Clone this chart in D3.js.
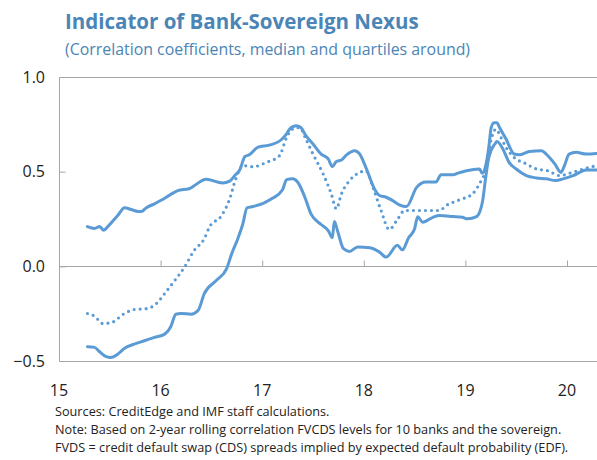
<!DOCTYPE html>
<html>
<head>
<meta charset="utf-8">
<script src="https://cdn.jsdelivr.net/npm/d3@7"></script>
<style>
  body { margin: 0; background: #fff; }
  text { font-family: "Open Sans", "Noto Sans", sans-serif; }
  .title { font-weight: bold; fill: #4a85b6; font-size: 20.5px; }
  .subtitle { fill: #4a85b6; font-size: 15.9px; }
  .tick-label { fill: #222; font-size: 16px; }
  .note { fill: #222; font-size: 12.7px; }
  .frame { stroke: #a6a6a6; stroke-width: 1; fill: none; }
  .series { fill: none; stroke: #5b9bd5; stroke-width: 3; stroke-linejoin: round; stroke-linecap: round; }
  .median { stroke-dasharray: 0 6; stroke-width: 3.2; }
</style>
</head>
<body>
<div id="chart"></div>
<script>
// Data: [year (2-digit, fractional), correlation]
const upperQuartile = [
  [15.28, 0.21], [15.35, 0.20], [15.40, 0.21], [15.44, 0.19], [15.48, 0.21], [15.58, 0.27],
  [15.645, 0.31], [15.71, 0.30], [15.78, 0.29], [15.81, 0.29], [15.86, 0.31], [15.94, 0.33],
  [16.01, 0.35], [16.10, 0.38], [16.17, 0.40], [16.28, 0.41], [16.45, 0.46], [16.61, 0.44],
  [16.68, 0.45], [16.73, 0.48], [16.78, 0.51], [16.83, 0.58], [16.875, 0.59], [16.96, 0.63],
  [17.07, 0.64], [17.19, 0.67], [17.24, 0.70], [17.27, 0.725], [17.335, 0.742], [17.38, 0.733],
  [17.43, 0.69], [17.50, 0.646], [17.58, 0.593], [17.65, 0.567], [17.69, 0.526], [17.73, 0.554],
  [17.78, 0.562], [17.83, 0.589], [17.91, 0.611], [17.96, 0.593], [18.02, 0.523], [18.105, 0.409],
  [18.155, 0.374], [18.22, 0.365], [18.285, 0.347], [18.35, 0.325], [18.42, 0.316], [18.52, 0.417],
  [18.61, 0.445], [18.71, 0.445], [18.76, 0.484], [18.88, 0.484], [18.925, 0.492], [19.01, 0.505],
  [19.14, 0.514], [19.165, 0.491], [19.20, 0.532], [19.23, 0.628], [19.254, 0.733], [19.28, 0.759],
  [19.31, 0.759], [19.336, 0.733], [19.40, 0.672], [19.48, 0.593], [19.53, 0.589], [19.63, 0.607],
  [19.75, 0.611], [19.795, 0.593], [19.88, 0.541], [19.94, 0.496], [19.975, 0.532], [20.02, 0.593],
  [20.09, 0.602], [20.19, 0.593], [20.29, 0.596]
];

const median = [
  [15.28, -0.249], [15.35, -0.263], [15.43, -0.302], [15.51, -0.298], [15.645, -0.249], [15.74, -0.228],
  [15.87, -0.223], [15.96, -0.196], [16.04, -0.144], [16.14, -0.074], [16.235, -0.004], [16.33, 0.084],
  [16.43, 0.146], [16.48, 0.207], [16.60, 0.268], [16.68, 0.356], [16.74, 0.462], [16.81, 0.532],
  [16.91, 0.526], [17.04, 0.549], [17.17, 0.584], [17.24, 0.681], [17.30, 0.725], [17.37, 0.733],
  [17.43, 0.672], [17.50, 0.593], [17.60, 0.488], [17.68, 0.383], [17.73, 0.304], [17.78, 0.383],
  [17.86, 0.453], [17.96, 0.496], [18.02, 0.505], [18.09, 0.417], [18.17, 0.295], [18.25, 0.195],
  [18.335, 0.251], [18.40, 0.295], [18.52, 0.295], [18.745, 0.295], [18.81, 0.321], [18.94, 0.351],
  [19.07, 0.383], [19.155, 0.453], [19.21, 0.523], [19.244, 0.646], [19.276, 0.707], [19.30, 0.725],
  [19.35, 0.681], [19.40, 0.628], [19.48, 0.575], [19.60, 0.541], [19.70, 0.514], [19.81, 0.505],
  [19.93, 0.479], [20.02, 0.491], [20.16, 0.514], [20.29, 0.532]
];

const lowerQuartile = [
  [15.28, -0.425], [15.35, -0.428], [15.40, -0.451], [15.465, -0.477], [15.51, -0.481], [15.58, -0.463],
  [15.645, -0.433], [15.74, -0.411], [15.84, -0.393], [15.94, -0.375], [16.04, -0.358], [16.10, -0.319],
  [16.15, -0.253], [16.20, -0.249], [16.30, -0.253], [16.37, -0.232], [16.43, -0.144], [16.55, -0.074],
  [16.65, -0.012], [16.70, 0.067], [16.76, 0.146], [16.81, 0.225], [16.85, 0.309], [16.91, 0.316],
  [17.01, 0.333], [17.10, 0.359], [17.20, 0.404], [17.24, 0.458], [17.30, 0.462], [17.35, 0.444],
  [17.42, 0.365], [17.48, 0.277], [17.58, 0.221], [17.65, 0.189], [17.69, 0.151], [17.71, 0.237],
  [17.745, 0.181], [17.80, 0.093], [17.86, 0.079], [17.94, 0.102], [18.06, 0.098], [18.155, 0.075],
  [18.22, 0.049], [18.33, 0.111], [18.38, 0.087], [18.44, 0.150], [18.50, 0.198], [18.53, 0.262],
  [18.58, 0.233], [18.68, 0.259], [18.745, 0.268], [18.88, 0.263], [18.97, 0.259], [19.02, 0.251],
  [19.11, 0.263], [19.14, 0.286], [19.17, 0.347], [19.20, 0.470], [19.23, 0.575], [19.29, 0.646],
  [19.31, 0.659], [19.37, 0.619], [19.43, 0.549], [19.50, 0.514], [19.60, 0.479], [19.70, 0.467],
  [19.795, 0.462], [19.89, 0.453], [19.96, 0.462], [20.06, 0.479], [20.19, 0.509], [20.29, 0.509]
];

const xTicks = [15, 16, 17, 18, 19, 20];
const yTicks = [-0.5, 0, 0.5, 1.0];

const titleText = "Indicator of Bank-Sovereign Nexus";
const subtitleText = "(Correlation coefficients, median and quartiles around)";
const notes = [
  "Sources: CreditEdge and IMF staff calculations.",
  "Note: Based on 2-year rolling correlation FVCDS levels for 10 banks and the sovereign.",
  "FVDS = credit default swap (CDS) spreads implied by expected default probability (EDF)."
];

// Dimensiones
const width = 597
const height = 460
const margin = { top: 77, bottom: 99, left: 59, right: 0 }
const innerW = width - margin.left - margin.right
const innerH = height - margin.top - margin.bottom

const svg = d3.select("#chart")
  .append("svg")
  .attr("width", width)
  .attr("height", height)

// Titulos
svg.append("text").attr("class", "title").attr("x", 65).attr("y", 29).text(titleText)
svg.append("text").attr("class", "subtitle").attr("x", 65).attr("y", 55).text(subtitleText)

const g = svg.append("g").attr("transform", `translate(${margin.left}, ${margin.top})`)

// Escalas
const x = d3.scaleLinear().domain([15, 15 + innerW / 101.6]).range([0, innerW])
const y = d3.scaleLinear().domain([-0.5, 1.0]).range([innerH, 0])

// Marco: izquierda, arriba, abajo
g.append("path").attr("class", "frame")
  .attr("d", `M${innerW},0.5H0.5V${innerH + 0.5}H${innerW}`)

// Eje X sobre la linea cero, ticks hacia arriba
const xAxis = d3.axisTop(x).tickValues(xTicks).tickSize(6).tickFormat("")
const xAxisGroup = g.append("g").attr("transform", `translate(0, ${Math.round(y(0)) + 0.5})`).call(xAxis)
xAxisGroup.select(".domain").attr("d", `M0,0H${innerW}`)
xAxisGroup.selectAll("line, path").attr("stroke", "#a6a6a6")
xAxisGroup.selectAll(".tick").filter(d => d === 15).remove()

// Eje Y, ticks hacia dentro
const yAxis = d3.axisRight(y).tickValues(yTicks).tickSize(6).tickFormat("")
const yAxisGroup = g.append("g").attr("transform", "translate(0.5, 0)").call(yAxis)
yAxisGroup.select(".domain").remove()
yAxisGroup.selectAll("line").attr("stroke", "#a6a6a6")

// Etiquetas
g.selectAll(".ylab").data(yTicks).enter().append("text")
  .attr("class", "tick-label")
  .attr("x", -14)
  .attr("y", d => y(d))
  .attr("dy", "0.35em")
  .attr("text-anchor", "end")
  .text(d => d3.format(".1f")(d))

g.selectAll(".xlab").data(xTicks).enter().append("text")
  .attr("class", "tick-label")
  .attr("x", d => x(d))
  .attr("y", innerH + 35)
  .attr("text-anchor", "middle")
  .text(d => d)

// Lineas
const line = d3.line().x(d => x(d[0])).y(d => y(d[1])).curve(d3.curveMonotoneX)

g.append("path").datum(upperQuartile).attr("class", "series").attr("d", line)
g.append("path").datum(lowerQuartile).attr("class", "series").attr("d", line)
g.append("path").datum(median).attr("class", "series median").attr("d", line)

// Notas
svg.selectAll(".note").data(notes).enter().append("text")
  .attr("class", "note")
  .attr("x", 55)
  .attr("y", (d, i) => 416 + i * 18)
  .text(d => d)
</script>
</body>
</html>
